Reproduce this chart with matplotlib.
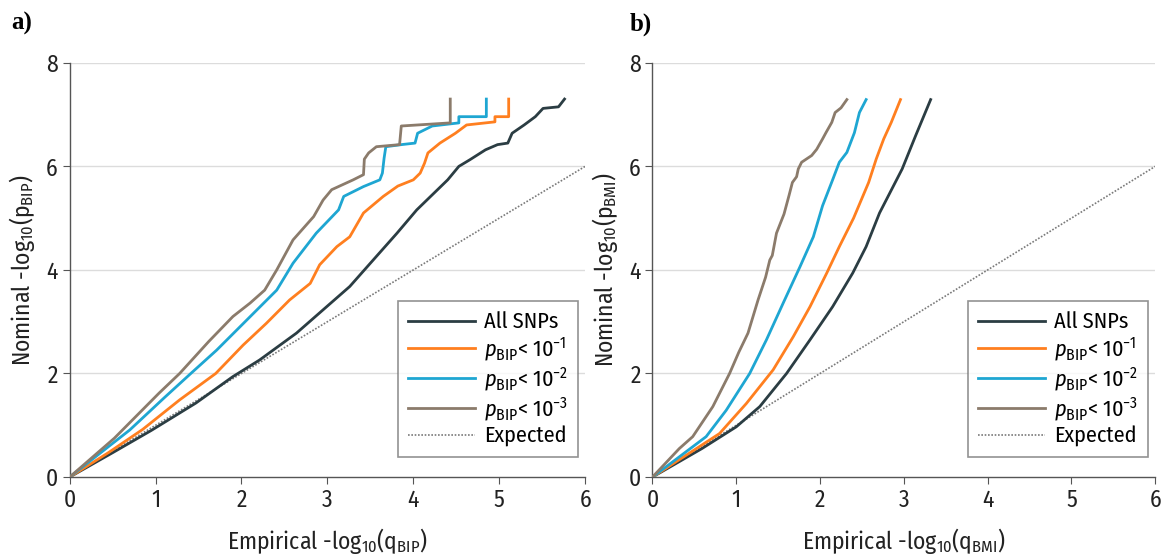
import matplotlib
matplotlib.use("Agg")
import matplotlib.pyplot as plt
from matplotlib import font_manager

names = {f.name for f in font_manager.fontManager.ttflist}
FONT = next((n for n in ["Fira Sans Condensed", "Open Sans Condensed", "PT Sans Narrow", "Roboto Condensed"]
             if n in names), "DejaVu Sans")
plt.rcParams["font.family"] = [FONT, "DejaVu Sans"]
plt.rcParams["mathtext.fontset"] = "custom"
plt.rcParams["mathtext.rm"] = FONT
plt.rcParams["mathtext.it"] = FONT + ":italic"

# ---------------- Panel a data (BIP conditional on BMI) ----------------
a_all_x = [0, 0.50, 0.95, 1.47, 1.90, 2.21, 2.64, 2.95, 3.26, 3.50, 3.81, 4.04, 4.40, 4.53, 4.66, 4.84, 4.98,
           5.10, 5.15, 5.29, 5.42, 5.51, 5.69, 5.76]
a_all_y = [0, 0.47, 0.90, 1.43, 1.94, 2.26, 2.78, 3.23, 3.68, 4.13, 4.71, 5.16, 5.74, 6.0, 6.13, 6.32, 6.42,
           6.45, 6.64, 6.80, 6.96, 7.12, 7.15, 7.30]
a_p1_x = [0, 0.45, 0.85, 1.28, 1.70, 2.02, 2.29, 2.56, 2.80, 2.91, 3.11, 3.26, 3.42, 3.65, 3.82, 4.00, 4.08,
          4.13, 4.17, 4.31, 4.49, 4.62, 4.95, 4.95, 5.11, 5.11]
a_p1_y = [0, 0.47, 0.92, 1.49, 2.00, 2.55, 2.97, 3.42, 3.74, 4.10, 4.45, 4.64, 5.10, 5.42, 5.62, 5.74, 5.87,
          6.06, 6.26, 6.45, 6.64, 6.80, 6.86, 6.96, 6.96, 7.30]
a_p2_x = [0, 0.70, 1.10, 1.41, 1.71, 2.06, 2.41, 2.60, 2.87, 3.13, 3.19, 3.42, 3.61, 3.64, 3.66, 3.68,
          3.86, 4.02, 4.05, 4.22, 4.53, 4.53, 4.85, 4.85]
a_p2_y = [0, 0.91, 1.53, 2.0, 2.45, 3.03, 3.61, 4.13, 4.71, 5.16, 5.42, 5.61, 5.74, 5.87, 6.16, 6.38,
          6.42, 6.45, 6.64, 6.78, 6.84, 6.96, 6.96, 7.30]
a_p3_x = [0, 0.52, 1.04, 1.28, 1.62, 1.90, 2.10, 2.27, 2.41, 2.60, 2.84, 2.95, 3.05, 3.30, 3.42, 3.43,
          3.48, 3.57, 3.84, 3.86, 4.43, 4.43]
a_p3_y = [0, 0.75, 1.62, 2.00, 2.62, 3.10, 3.36, 3.61, 4.00, 4.58, 5.03, 5.35, 5.55, 5.74, 5.84, 6.14,
          6.26, 6.38, 6.42, 6.78, 6.84, 7.30]

# ---------------- Panel b data (BMI conditional on BIP) ----------------
b_all_x = [0, 0.59, 1.00, 1.28, 1.60, 1.88, 2.15, 2.39, 2.55, 2.71, 2.98, 3.14, 3.32]
b_all_y = [0, 0.55, 0.97, 1.36, 2.00, 2.65, 3.29, 3.94, 4.45, 5.10, 5.95, 6.59, 7.29]
b_p1_x = [0, 0.80, 1.12, 1.44, 1.68, 1.88, 2.08, 2.23, 2.40, 2.58, 2.67, 2.76, 2.85, 2.96]
b_p1_y = [0, 0.84, 1.42, 2.07, 2.71, 3.29, 3.94, 4.45, 5.00, 5.69, 6.14, 6.53, 6.85, 7.29]
b_p2_x = [0, 0.64, 0.88, 1.16, 1.36, 1.56, 1.76, 1.92, 2.03, 2.15, 2.23, 2.32, 2.41, 2.47, 2.55]
b_p2_y = [0, 0.78, 1.29, 2.00, 2.65, 3.36, 4.06, 4.64, 5.24, 5.74, 6.08, 6.27, 6.65, 7.04, 7.29]
b_p3_x = [0, 0.32, 0.48, 0.72, 0.92, 1.03, 1.14, 1.26, 1.35, 1.40, 1.43, 1.48, 1.57, 1.63, 1.67, 1.72,
          1.74, 1.78, 1.90, 1.96, 2.03, 2.07, 2.14, 2.18, 2.25, 2.32]
b_p3_y = [0, 0.55, 0.78, 1.36, 2.00, 2.41, 2.78, 3.42, 3.86, 4.19, 4.28, 4.71, 5.08, 5.44, 5.69, 5.80,
          5.95, 6.08, 6.21, 6.33, 6.53, 6.65, 6.85, 7.04, 7.13, 7.29]

expected_x = [0, 6]
expected_y = [0, 6]

series_labels = ["All SNPs", r"$\mathit{p}_{\mathrm{BIP}}$< 10$^{\mathrm{-1}}$",
                 r"$\mathit{p}_{\mathrm{BIP}}$< 10$^{\mathrm{-2}}$",
                 r"$\mathit{p}_{\mathrm{BIP}}$< 10$^{\mathrm{-3}}$", "Expected"]
colors = ["#2b3d43", "#ff7f1f", "#1ea6d2", "#8b7b6b"]

x_ticks = [0, 1, 2, 3, 4, 5, 6]
y_ticks = [0, 2, 4, 6, 8]

fig = plt.figure(figsize=(11.61, 5.56), dpi=100)
ax_a = fig.add_axes([0.060, 0.142, 0.444, 0.745])
ax_b = fig.add_axes([0.562, 0.142, 0.433, 0.745])

panels = [
    (ax_a, [(a_all_x, a_all_y), (a_p1_x, a_p1_y), (a_p2_x, a_p2_y), (a_p3_x, a_p3_y)],
     r"Empirical -log$_{10}$(q$_{\mathrm{BIP}}$)", r"Nominal -log$_{10}$(p$_{\mathrm{BIP}}$)", "a)", 0.010),
    (ax_b, [(b_all_x, b_all_y), (b_p1_x, b_p1_y), (b_p2_x, b_p2_y), (b_p3_x, b_p3_y)],
     r"Empirical -log$_{10}$(q$_{\mathrm{BMI}}$)", r"Nominal -log$_{10}$(p$_{\mathrm{BMI}}$)", "b)", 0.542),
]

for ax, series, xl, yl, tag, tx in panels:
    for yv in y_ticks[1:]:
        ax.axhline(yv, color="#dcdcdc", lw=1.0, zorder=0)
    handles = []
    for (xs, ys), c, lab in zip(series, colors, series_labels[:4]):
        h, = ax.plot(xs, ys, color=c, lw=2.0, label=lab, zorder=3)
        handles.append(h)
    he, = ax.plot(expected_x, expected_y, color="#7a7a7a", lw=1.2, ls=(0, (1, 1)),
                  label=series_labels[4], zorder=2)
    handles.append(he)
    ax.set_xlim(0, 6)
    ax.set_ylim(0, 8)
    ax.set_xticks(x_ticks)
    ax.set_yticks(y_ticks)
    for s in ["top", "right"]:
        ax.spines[s].set_visible(False)
    for s in ["left", "bottom"]:
        ax.spines[s].set_color("#555555")
        ax.spines[s].set_linewidth(1.0)
    ax.tick_params(axis="both", labelsize=17, colors="#222222", length=5, color="#555555")
    ax.set_xlabel(xl, fontsize=17, color="#222222", labelpad=10)
    ax.set_ylabel(yl, fontsize=17, color="#222222", labelpad=6)
    leg = ax.legend(handles=handles, loc="lower right", bbox_to_anchor=(1.008, 0.022),
                    fontsize=16, frameon=True, fancybox=False, handlelength=3.0,
                    handletextpad=0.4, labelspacing=0.1, borderpad=0.45)
    leg.get_frame().set_edgecolor("#777777")
    leg.get_frame().set_linewidth(1.2)
    fig.text(tx, 0.978, tag, fontsize=18, fontweight="bold", family="Liberation Serif",
             va="top", ha="left")

fig.savefig("out.png", dpi=100)
